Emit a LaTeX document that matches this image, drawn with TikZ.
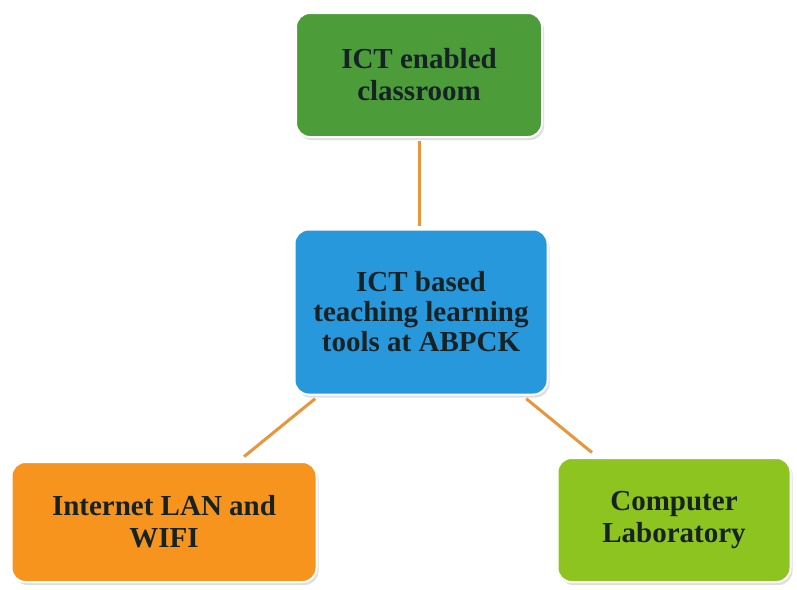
\documentclass[tikz,border=0pt]{standalone}
\usepackage{fontspec}
\setmainfont{Liberation Serif}
\usetikzlibrary{shadows}
\definecolor{gbox}{RGB}{76,156,58}
\definecolor{bbox}{RGB}{40,152,220}
\definecolor{obox}{RGB}{246,148,30}
\definecolor{lbox}{RGB}{142,196,32}
\definecolor{conn}{RGB}{232,150,60}
\definecolor{txt}{RGB}{22,34,36}
\tikzset{
  card/.style={rounded corners=14pt, draw=white, line width=2pt, align=center,
    text=txt, font=\fontsize{29}{32}\selectfont\bfseries, inner sep=0pt,
    drop shadow={opacity=0.25, shadow xshift=2pt, shadow yshift=-3pt}},
  link/.style={draw=conn, line width=3pt}
}
\begin{document}
\begin{tikzpicture}[x=1pt,y=-1pt]
\fill[white] (0,0) rectangle (797,589);
\useasboundingbox (0,0) rectangle (797,589);
\node[card, fill=gbox, minimum width=246pt, minimum height=124pt] (green) at (419,75) {ICT enabled\\classroom};
\node[card, fill=bbox, minimum width=253pt, minimum height=165pt, font=\fontsize{29}{30}\selectfont\bfseries] (blue) at (421,312) {ICT based\\teaching learning\\tools at ABPCK};
\node[card, fill=obox, minimum width=305pt, minimum height=120pt] (orange) at (164,522) {Internet LAN and\\WIFI};
\node[card, fill=lbox, minimum width=233pt, minimum height=124pt] (lime) at (674,520) {Computer\\Laboratory};
\draw[link, shorten <=3pt, shorten >=3pt] (green.south) -- (green.south |- blue.north);
\draw[link, shorten <=5pt, shorten >=7pt] (blue) -- (orange);
\draw[link, shorten <=5pt, shorten >=7pt] (blue) -- (lime);
\end{tikzpicture}
\end{document}
